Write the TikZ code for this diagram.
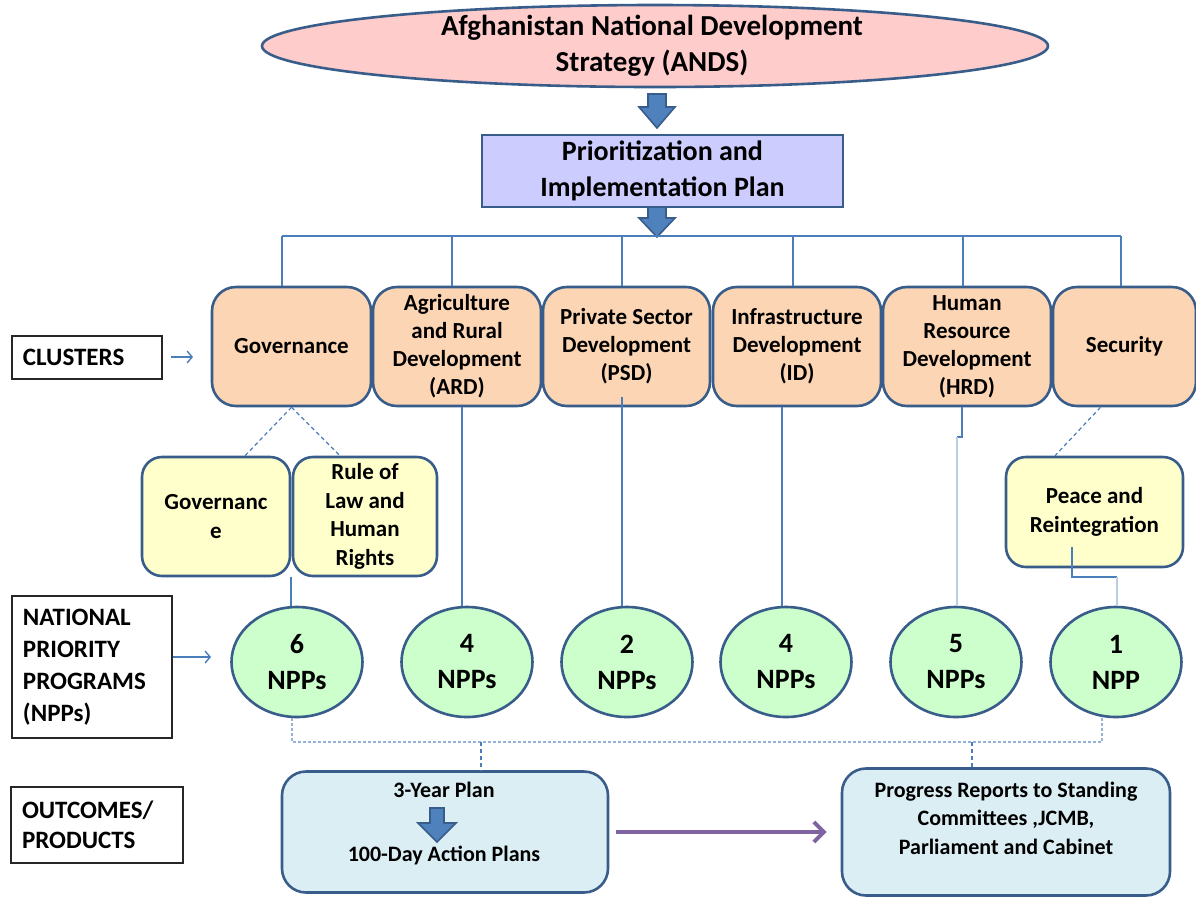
\documentclass[tikz,border=0pt]{standalone}
\usepackage{fontspec}
\setmainfont{Carlito}
\usetikzlibrary{shapes.geometric,arrows.meta,positioning}

\definecolor{edgeblue}{HTML}{385D8A}
\definecolor{connblue}{HTML}{4A7EBB}
\definecolor{faintblue}{HTML}{B9CDE5}
\definecolor{dotblue}{HTML}{95B3D7}
\definecolor{andsfill}{HTML}{FFCCCC}
\definecolor{pipfill}{HTML}{CCCCFF}
\definecolor{clusfill}{HTML}{FCD5B5}
\definecolor{subfill}{HTML}{FFFFCC}
\definecolor{nppfill}{HTML}{CCFFCC}
\definecolor{outfill}{HTML}{DBEEF4}
\definecolor{arrowfill}{HTML}{4F81BD}
\definecolor{purple}{HTML}{8064A2}

\tikzset{
  cluster/.style={draw=edgeblue, line width=1.3pt, fill=clusfill, rounded corners=12pt,
    minimum height=59.5pt, inner sep=0pt, align=center,
    font=\bfseries\fontsize{11.5}{14}\selectfont},
  subbox/.style={draw=edgeblue, line width=1.3pt, fill=subfill, rounded corners=10pt,
    minimum height=59.5pt, inner sep=0pt, align=center,
    font=\bfseries\fontsize{11.5}{14.3}\selectfont},
  npp/.style={ellipse, draw=edgeblue, line width=1.3pt, fill=nppfill,
    minimum width=65.5pt, minimum height=55pt, inner sep=0pt, align=center,
    font=\bfseries\fontsize{14}{18}\selectfont},
  tag/.style={draw=black!85, line width=1pt, inner xsep=5.5pt, inner ysep=0pt, align=left,
    font=\bfseries\fontsize{12.5}{16}\selectfont},
  outbox/.style={draw=edgeblue, line width=1.3pt, fill=outfill, rounded corners=12pt, inner sep=0pt},
  outtext/.style={align=center, inner sep=0pt, font=\bfseries\fontsize{11}{14.2}\selectfont},
  conn/.style={draw=connblue, line width=0.9pt},
  faintconn/.style={draw=faintblue, line width=0.9pt},
  dashconn/.style={draw=connblue, line width=0.6pt, dash pattern=on 2pt off 1.5pt},
  dotconn/.style={draw=dotblue, line width=1.4pt, dash pattern=on 1.5pt off 1pt},
  blockarrow/.style={fill=arrowfill, draw=edgeblue, line width=0.8pt},
  tagarrow/.style={draw=connblue, line width=0.7pt, -{Straight Barb[length=2.5pt,width=6pt]}},
  purparrow/.style={draw=purple, line width=2pt, -{Straight Barb[length=5pt,width=10pt]}}
}

\begin{document}
\begin{tikzpicture}[x=0.5pt, y=-0.5pt]
\useasboundingbox (0,0) rectangle (1196,896);

% strategy and plan
\node[ellipse, draw=edgeblue, fill=andsfill, line width=1.3pt, minimum width=393pt, minimum height=41pt] (ands) at (655,46) {};
\node[align=center, font=\bfseries\fontsize{14.5}{18}\selectfont] (andstext) at (652,46) {Afghanistan National Development\\Strategy (ANDS)};
\node[draw=edgeblue, fill=pipfill, line width=1.3pt, minimum width=180.5pt, minimum height=36pt, inner sep=0pt,
  align=center, font=\bfseries\fontsize{14}{18}\selectfont] (pip) at (662.5,171) {Prioritization and\\Implementation Plan};

% clusters
\node[cluster, minimum width=79.5pt] (gov) at (291.5,346.5) {Governance};
\node[cluster, minimum width=84pt] (ard) at (457,346.5) {Agriculture\\and Rural\\Development\\(ARD)};
\node[cluster, minimum width=83.5pt] (psd) at (626.5,346.5) {Private Sector\\Development\\(PSD)};
\node[cluster, minimum width=84pt] (infra) at (797,346.5) {Infrastructure\\Development\\(ID)};
\node[cluster, minimum width=84pt] (hrd) at (967,346.5) {Human\\Resource\\Development\\(HRD)};
\node[cluster, minimum width=71.5pt] (sec) at (1124.5,346.5) {Security};

% sub clusters
\node[subbox, minimum width=74pt] (govsub) at (216,516.5) {Governanc\\e};
\node[subbox, minimum width=72pt] (rol) at (365,516.5) {Rule of\\Law and\\Human\\Rights};
\node[subbox, minimum width=88.5pt, minimum height=55pt] (peace) at (1094.5,512) {Peace and\\Reintegration};

% national priority programs
\foreach \n/\x/\k/\t in {npp1/297/6/NPPs, npp2/467/4/NPPs, npp3/627/2/NPPs,
                         npp4/786/4/NPPs, npp5/956/5/NPPs, npp6/1116/1/NPP}
  \node[npp] (\n) at (\x,662) {\k\\\t};

% row labels
\node[tag, text width=64pt, minimum height=21.5pt] (clus) at (87,357) {CLUSTERS};
\node[tag, text width=69pt, minimum height=71pt, font=\bfseries\fontsize{12.5}{16}\selectfont] (nat) at (92,667) {NATIONAL\\PRIORITY\\PROGRAMS\\(NPPs)};
\node[tag, text width=75pt, minimum height=38pt, font=\bfseries\fontsize{12.5}{15}\selectfont] (outc) at (97,825) {OUTCOMES/\\PRODUCTS};
\draw[tagarrow] ([xshift=4pt]clus.east) -- ++(22,0);
\draw[tagarrow] (nat.east) ++(0,-10) -- ++(38,0);

% outcomes
\node[outbox, minimum width=163pt, minimum height=60.5pt] (threeyr) at (445,832) {};
\node[outbox, minimum width=164pt, minimum height=63.5pt] (progress) at (1006,832) {};
\node[outtext] (yr3) at (444,790) {3-Year Plan};
\node[outtext] (day100) at (444,855) {100-Day Action Plans};
\node[outtext] (progtext) at (1006,818) {Progress Reports to Standing\\Committees ,JCMB,\\Parliament and Cabinet};
\draw[purparrow] ([xshift=3.5pt]threeyr.east) -- ([xshift=-7pt]progress.west);

% block arrows
\foreach \cx/\top/\neck/\tip/\hw/\sw in {657/94/107/128/18/9, 657/207/218/237/18/9, 437/808/823/842/19/7}
  \filldraw[blockarrow] (\cx-\sw,\top) -- (\cx+\sw,\top) -- (\cx+\sw,\neck) -- (\cx+\hw,\neck)
    -- (\cx,\tip) -- (\cx-\hw,\neck) -- (\cx-\sw,\neck) -- cycle;

% tree from plan to clusters
\coordinate (barL) at (282,236);
\coordinate (barR) at (1121,236);
\draw[conn] (barL) -- (barR);
\foreach \n/\x in {gov/282, ard/452, psd/622, infra/793, hrd/963, sec/1121}
  \draw[conn] (barL -| \x,0) -- (\n.north -| \x,0);

% clusters to sub clusters
\draw[dashconn] (gov.south) -- ([xshift=14.5pt]govsub.north);
\draw[dashconn] (gov.south) -- ([xshift=-12.5pt]rol.north);
\draw[dashconn] ([xshift=-12pt]sec.south) -- ([xshift=-19.75pt]peace.north);

% down to the programs
\draw[conn] (govsub.south east) -- (govsub.south east |- npp1.north);
\draw[conn] (ard.south -| 462,0) -- (npp2.north -| 462,0);
\draw[conn] (psd.south -| 622,0) ++(0,-10) -- (npp3.north -| 622,0);
\draw[conn] (infra.south -| 782,0) -- (npp4.north -| 782,0);
\draw[conn] (hrd.south -| 962,0) |- (957,437) coordinate (hrdjog);
\draw[faintconn] (hrdjog) -- (npp5.north -| hrdjog);
\draw[conn] (peace.south -| 1072,0) ++(0,-21) |- (1117,577) coordinate (peacejog);
\draw[faintconn] (peacejog) -- (npp6.north -| peacejog);

% programs to outcomes
\coordinate (outbar) at (697,742);
\draw[dotconn] ([xshift=-2.5pt]npp1.south) |- (outbar) -| ([xshift=-7pt]npp6.south);
\draw[dashconn] (outbar -| 481,0) -- (threeyr.north -| 481,0);
\draw[dashconn] (outbar -| 972,0) -- (progress.north -| 972,0);
\end{tikzpicture}
\end{document}
